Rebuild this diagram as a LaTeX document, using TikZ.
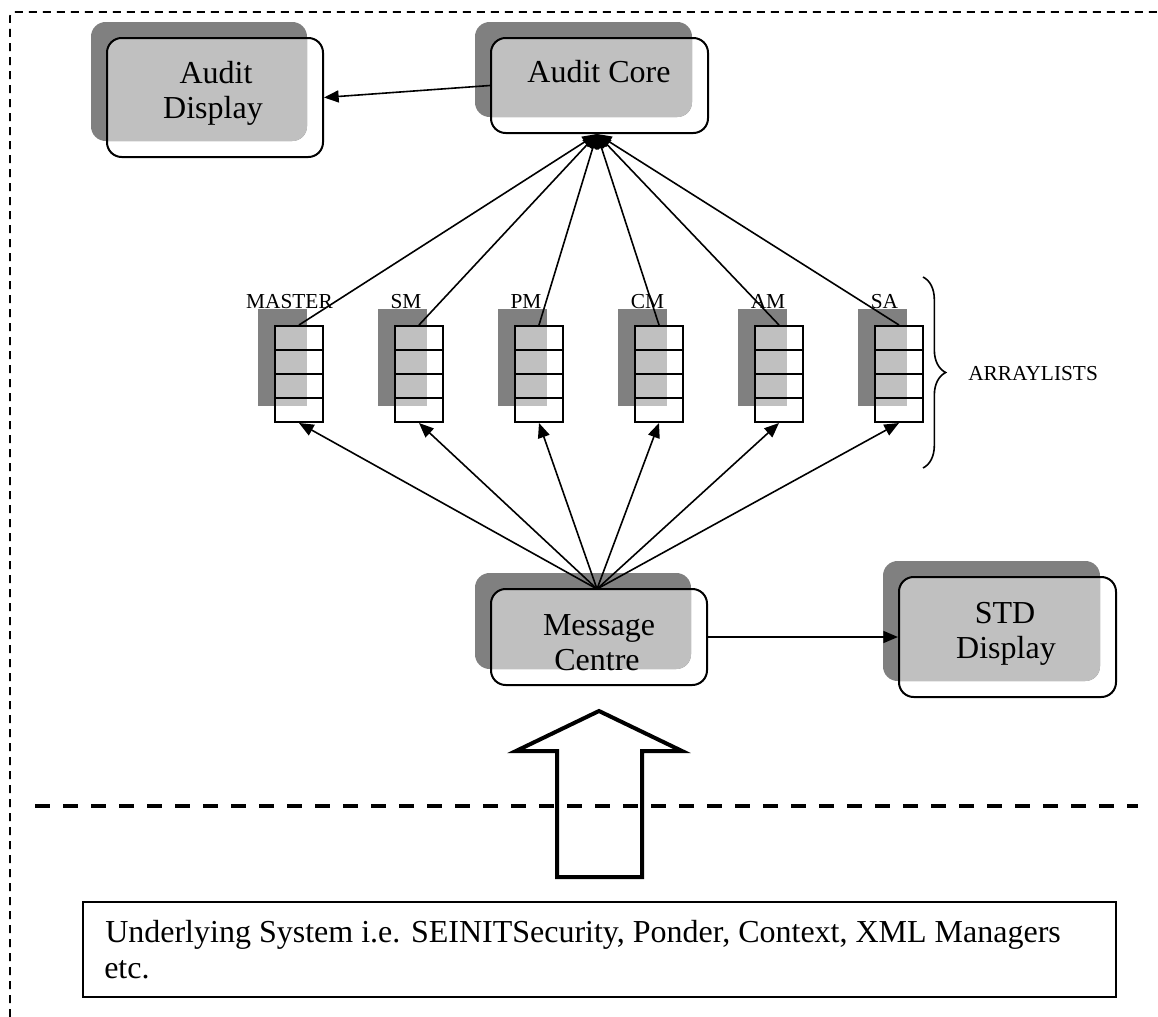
\documentclass[tikz,border=0pt]{standalone}
\usepackage{fontspec}
\setmainfont{Liberation Serif}
\usetikzlibrary{arrows.meta,decorations.pathreplacing}
\definecolor{shadowgray}{HTML}{808080}
\definecolor{fillgray}{HTML}{C0C0C0}

% shadowed process box: name, centre x, centre y, width, height (px units)
\newcommand\shadebox[5]{%
  \fill[shadowgray, rounded corners=11pt]
    ({#2-#4/2-16},{#3-#5/2-16}) rectangle ({#2+#4/2-16},{#3+#5/2-16});
  \begin{scope}
    \clip[rounded corners=11pt]
      ({#2-#4/2},{#3-#5/2}) rectangle ({#2+#4/2},{#3+#5/2});
    \fill[fillgray, rounded corners=11pt]
      ({#2-#4/2-16},{#3-#5/2-16}) rectangle ({#2+#4/2-16},{#3+#5/2-16});
  \end{scope}
  \node[frontbox, minimum width={#4*0.75pt}, minimum height={#5*0.75pt}] (#1) at (#2,#3) {};
}

\begin{document}
\begin{tikzpicture}[x=0.75pt,y=-0.75pt,
  frontbox/.style={draw, line width=1.5pt, rounded corners=11pt, inner sep=0pt},
  stackbox/.style={draw, line width=1.5pt, inner sep=0pt, minimum width=36pt, minimum height=72pt},
  cell/.style={line width=1.5pt},
  conn/.style={line width=1.2pt, -{Triangle[length=11pt,width=9pt]}},
  bigtext/.style={inner sep=0pt, anchor=base, font=\fontsize{24}{28}\selectfont},
  smalltext/.style={inner sep=0pt, anchor=base, font=\fontsize{16}{19}\selectfont},
]
\useasboundingbox (0,0) rectangle (1158,1017);

% outer dashed frame
\draw[line width=1.2pt, dash pattern=on 6pt off 4.5pt, rounded corners=3pt]
  (10,1017) -- (10,12) -- (1158,12);

% process boxes
\shadebox{ad}{215}{97.5}{216}{119}
\shadebox{ac}{599.5}{85.5}{217}{95}
\shadebox{mc}{599}{637}{216}{96}
\shadebox{std}{1007.5}{637}{217}{120}

\node[bigtext] (adt1) at (216,83) {Audit};
\node[bigtext] (adt2) at (213,118) {Display};
\node[bigtext] (act) at (599,82) {Audit Core};
\node[bigtext] (mct1) at (599,635) {Message};
\node[bigtext] (mct2) at (597,670) {Centre};
\node[bigtext] (stdt1) at (1005,623) {STD};
\node[bigtext] (stdt2) at (1006,658) {Display};

% hubs where the fan of connectors meets
\coordinate (achub) at (597,134);
\coordinate (mchub) at (597,589);

% array lists
\foreach \i/\lab/\lx in {0/MASTER/289.5, 1/SM/406, 2/PM/526, 3/CM/647.5, 4/AM/768, 5/SA/884.5} {
  \pgfmathsetmacro\fx{275+120*\i}
  \fill[shadowgray] (\fx-17,309) rectangle (\fx+32,406);
  \fill[fillgray] (\fx,326) rectangle (\fx+32,406);
  \node[stackbox] (lst\i) at (\fx+24,374) {};
  \draw[cell] (\fx,350) -- (\fx+48,350);
  \draw[cell] (\fx,374) -- (\fx+48,374);
  \draw[cell] (\fx,398) -- (\fx+48,398);
  \node[smalltext] (lab\i) at (\lx,308) {\lab};
}

% connectors
\foreach \i in {0,...,5} {
  \draw[conn] (lst\i.north) -- (achub);
  \draw[conn] (mchub) -- (lst\i.south);
}
\draw[conn] (ac.west) -- (ad.east);
\draw[conn] (mc.east) -- (std.west);

% brace and its label
\draw[line width=1.2pt, decorate, decoration={brace, amplitude=17pt}]
  (923,277) -- (923,468);
\node[smalltext, anchor=base west] (arrl) at (968,380) {ARRAYLISTS};

% layer boundary
\draw[line width=3pt, dash pattern=on 11.25pt off 9.75pt] (35,806) -- (1138,806);

% hollow block arrow
\draw[line width=3pt, line join=miter]
  (557,877) -- (557,751) -- (516,751) -- (599,711) -- (682,751) -- (642,751) -- (642,877) -- cycle;

% underlying system box
\node[draw, line width=1.5pt, inner sep=0pt, minimum width=774.75pt, minimum height=71.25pt]
  (usys) at (599.5,949.5) {};
\node[bigtext, anchor=base west] (ut1) at (105,942)
  {Underlying System i.e. SEINITSecurity, Ponder, Context, XML Managers};
\node[bigtext, anchor=base west] (ut2) at (104,978) {etc.};
\end{tikzpicture}
\end{document}
